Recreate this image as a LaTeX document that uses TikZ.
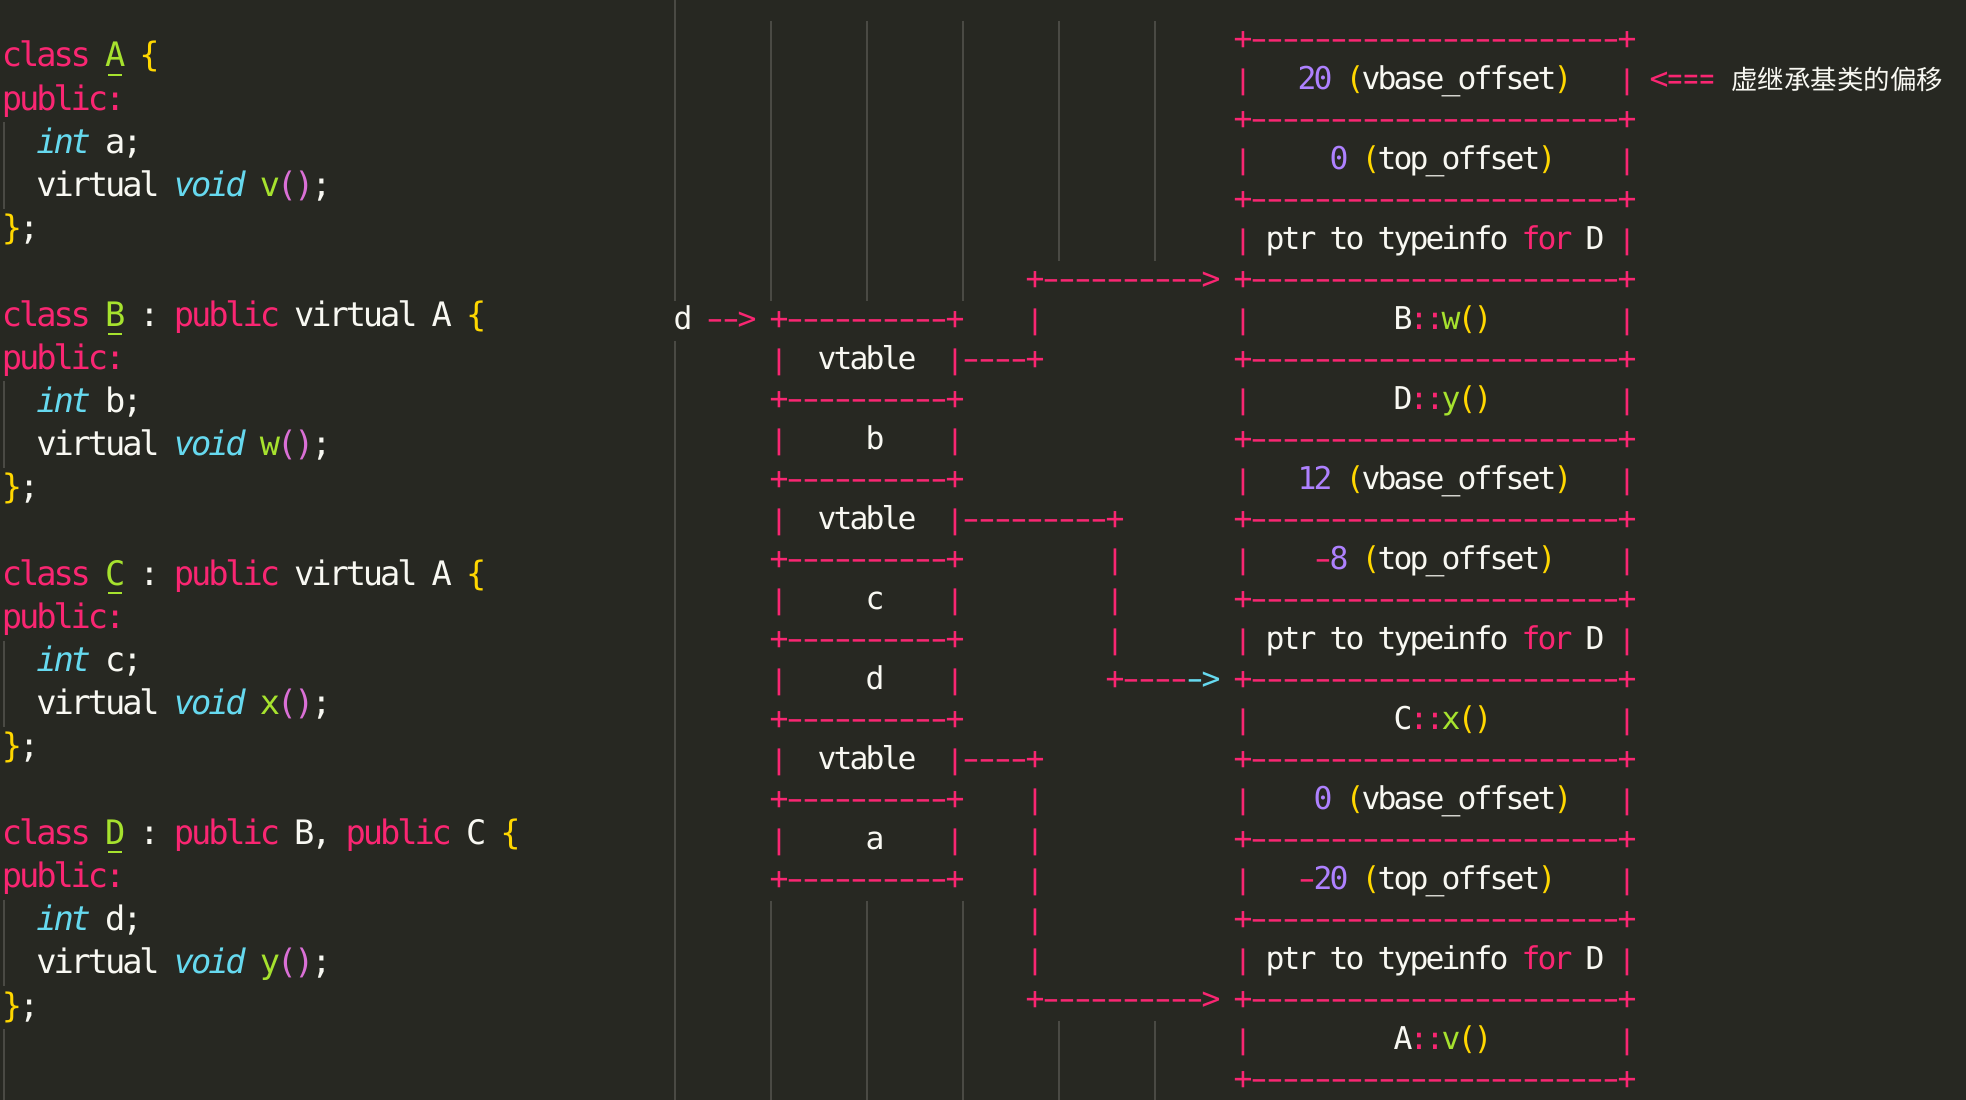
\documentclass[tikz,border=0pt]{standalone}
\usepackage{fontspec}
\usepackage{graphicx}
\setmonofont{DejaVu Sans Mono}
\newfontfamily\cjkfont{Noto Sans CJK SC}
\definecolor{bg}{HTML}{272822}
\definecolor{fg}{HTML}{F8F8F2}
\definecolor{mpink}{HTML}{F92672}
\definecolor{mgreen}{HTML}{A6E22E}
\definecolor{mcyan}{HTML}{66D9EF}
\definecolor{mpurple}{HTML}{AE81FF}
\definecolor{mgold}{HTML}{FFD700}
\definecolor{morchid}{HTML}{DA70D6}
\definecolor{guidecol}{HTML}{4A4A44}
% colour / shape switches used inside grid text
\newcommand\cpk{\color{mpink}\upshape}
\newcommand\cgr{\color{mgreen}\upshape}
\newcommand\ccy{\color{mcyan}\itshape}
\newcommand\ccu{\color{mcyan}\upshape}
\newcommand\cpu{\color{mpurple}\upshape}
\newcommand\cyl{\color{mgold}\upshape}
\newcommand\cor{\color{morchid}\upshape}
\newcommand\cwh{\color{fg}\upshape}
\ExplSyntaxOn
\dim_new:N \l_gridcell_dim
\tl_const:Nn \c_gridswitch_tl { \cpk \cgr \ccy \ccu \cpu \cyl \cor \cwh }
\NewDocumentCommand \gridtext { m m }
  {
    \dim_set:Nn \l_gridcell_dim {#1}
    \tl_map_inline:nn {#2}
      {
        \tl_if_in:NnTF \c_gridswitch_tl {##1}
          {##1}
          {
            \str_if_eq:nnTF {##1} {-}
              { \makebox[\l_gridcell_dim][c]{\scalebox{1.55}[1]{-}} }
              {
                \str_if_eq:nnTF {##1} {|}
                  { \makebox[\l_gridcell_dim][c]{\scalebox{1}[0.86]{|}} }
                  {
                    \str_if_eq:nnTF {##1} {=}
                      { \makebox[\l_gridcell_dim][c]{\scalebox{0.78}[1]{=}} }
                      { \makebox[\l_gridcell_dim][c]{##1} }
                  }
              }
          }
      }
  }
\ExplSyntaxOff
\newcounter{tn}
\newcommand\Lt[3]{\stepcounter{tn}\node[lefttext] (t\thetn) at ({3.5+17.19*#1},{66.9+43.19*#2}) {\gridtext{17.19pt}{#3}};}
\newcommand\Rt[3]{\stepcounter{tn}\node[righttext] (t\thetn) at ({675+16*#1},{49.3+40*#2}) {\gridtext{16pt}{#3}};}
\newcommand\Us[2]{\stepcounter{tn}\node[righttext] (t\thetn) at ({675+16*#1},{49.3+40*#2}) {\makebox[16pt][c]{\_}};}
\newcommand\TabBorder[1]{\Rt{35}{#1}{\cpk +-----------------------+}}
\newcommand\TabSides[1]{\Rt{35}{#1}{\cpk |}\Rt{59}{#1}{\cpk |}}
\newcommand\ObjBorder[1]{\Rt{6}{#1}{\cpk +----------+}}
\tikzset{
  lefttext/.style={anchor=base west, inner sep=0pt, outer sep=0pt, text=fg,
    font=\ttfamily\fontsize{33.7}{43}\selectfont},
  righttext/.style={anchor=base west, inner sep=0pt, outer sep=0pt, text=fg,
    font=\ttfamily\fontsize{31.4}{40}\selectfont},
  guideline/.style={draw=guidecol, line width=2pt},
  ul/.style={draw=mgreen, line width=2pt}
}
\begin{document}
\begin{tikzpicture}[x=1pt,y=-1pt]
\useasboundingbox (0,0) rectangle (1966,1100);
\fill[bg] (0,0) rectangle (1966,1100);
% ---------- indent guides ----------
\foreach \a/\b in {122.2/208.6, 381.3/467.7, 640.5/726.9, 899.6/986.0, 1029.2/1100}
  \draw[guideline] (3.5,\a) -- (3.5,\b);
\draw[guideline] (675,0) -- (675,300.5);
\draw[guideline] (675,340.5) -- (675,1100);
\foreach \x in {771,867,963} {
  \draw[guideline] (\x,20.5) -- (\x,300.5);
  \draw[guideline] (\x,900.5) -- (\x,1100);
}
\foreach \x in {1059,1155} {
  \draw[guideline] (\x,20.5) -- (\x,260.5);
  \draw[guideline] (\x,1020.5) -- (\x,1100);
}
% ---------- left pane: code ----------
\Lt{0}{0}{\cpk class~\cgr A~\cyl\{}
\Lt{0}{1}{\cpk public:}
\Lt{2}{2}{\ccy int\cwh ~a;}
\Lt{2}{3}{virtual~\ccy void\cwh ~\cgr v\cor ()\cwh ;}
\Lt{0}{4}{\cyl\}\cwh ;}
\Lt{0}{6}{\cpk class~\cgr B\cwh ~:~\cpk public\cwh ~virtual~A~\cyl\{}
\Lt{0}{7}{\cpk public:}
\Lt{2}{8}{\ccy int\cwh ~b;}
\Lt{2}{9}{virtual~\ccy void\cwh ~\cgr w\cor ()\cwh ;}
\Lt{0}{10}{\cyl\}\cwh ;}
\Lt{0}{12}{\cpk class~\cgr C\cwh ~:~\cpk public\cwh ~virtual~A~\cyl\{}
\Lt{0}{13}{\cpk public:}
\Lt{2}{14}{\ccy int\cwh ~c;}
\Lt{2}{15}{virtual~\ccy void\cwh ~\cgr x\cor ()\cwh ;}
\Lt{0}{16}{\cyl\}\cwh ;}
\Lt{0}{18}{\cpk class~\cgr D\cwh ~:~\cpk public\cwh ~B,~\cpk public\cwh ~C~\cyl\{}
\Lt{0}{19}{\cpk public:}
\Lt{2}{20}{\ccy int\cwh ~d;}
\Lt{2}{21}{virtual~\ccy void\cwh ~\cgr y\cor ()\cwh ;}
\Lt{0}{22}{\cyl\}\cwh ;}
\foreach \k in {0,6,12,18}
  \draw[ul] ({3.5+17.19*6+1.5},{66.9+43.19*\k+8}) -- ++(14.2,0);
% ---------- right pane: object d ----------
\Rt{0}{7}{d~\cpk -->}
\ObjBorder{7}
\Rt{6}{8}{\cpk |\cwh ~~vtable~~\cpk |----+}
\ObjBorder{9}
\Rt{6}{10}{\cpk |\cwh ~~~~~b~~~~\cpk |}
\ObjBorder{11}
\Rt{6}{12}{\cpk |\cwh ~~vtable~~\cpk |---------+}
\ObjBorder{13}
\Rt{6}{14}{\cpk |\cwh ~~~~~c~~~~\cpk |}
\ObjBorder{15}
\Rt{6}{16}{\cpk |\cwh ~~~~~d~~~~\cpk |}
\ObjBorder{17}
\Rt{6}{18}{\cpk |\cwh ~~vtable~~\cpk |----+}
\ObjBorder{19}
\Rt{6}{20}{\cpk |\cwh ~~~~~a~~~~\cpk |}
\ObjBorder{21}
% ---------- connectors ----------
\Rt{22}{6}{\cpk +---------->}
\Rt{22}{7}{\cpk |}
\foreach \r in {13,14,15} {\Rt{27}{\r}{\cpk |}}
\Rt{27}{16}{\cpk +----\ccu ->}
\foreach \r in {19,20,21,22,23} {\Rt{22}{\r}{\cpk |}}
\Rt{22}{24}{\cpk +---------->}
% ---------- vtable of D ----------
\foreach \r in {0,2,4,6,8,10,12,14,16,18,20,22,24,26} {\TabBorder{\r}}
\foreach \r in {1,3,5,7,9,11,13,15,17,19,21,23,25} {\TabSides{\r}}
\Rt{39}{1}{\cpu 20~\cyl (\cwh vbase}\Us{48}{1}\Rt{49}{1}{offset\cyl )}
\Rt{61}{1}{\cpk <===}
\node[anchor=base west, inner sep=0pt, outer sep=0pt, text=fg,
  font=\cjkfont\fontsize{26.5}{30}\selectfont] (note) at (1731,89.3) {虚继承基类的偏移};
\Rt{41}{3}{\cpu 0~\cyl (\cwh top}\Us{47}{3}\Rt{48}{3}{offset\cyl )}
\Rt{37}{5}{ptr~to~typeinfo~\cpk for\cwh ~D}
\Rt{45}{7}{B\cpk ::\cgr w\cyl ()}
\Rt{45}{9}{D\cpk ::\cgr y\cyl ()}
\Rt{39}{11}{\cpu 12~\cyl (\cwh vbase}\Us{48}{11}\Rt{49}{11}{offset\cyl )}
\Rt{40}{13}{\cpk -\cpu 8~\cyl (\cwh top}\Us{47}{13}\Rt{48}{13}{offset\cyl )}
\Rt{37}{15}{ptr~to~typeinfo~\cpk for\cwh ~D}
\Rt{45}{17}{C\cpk ::\cgr x\cyl ()}
\Rt{40}{19}{\cpu 0~\cyl (\cwh vbase}\Us{48}{19}\Rt{49}{19}{offset\cyl )}
\Rt{39}{21}{\cpk -\cpu 20~\cyl (\cwh top}\Us{47}{21}\Rt{48}{21}{offset\cyl )}
\Rt{37}{23}{ptr~to~typeinfo~\cpk for\cwh ~D}
\Rt{45}{25}{A\cpk ::\cgr v\cyl ()}
\end{tikzpicture}
\end{document}
